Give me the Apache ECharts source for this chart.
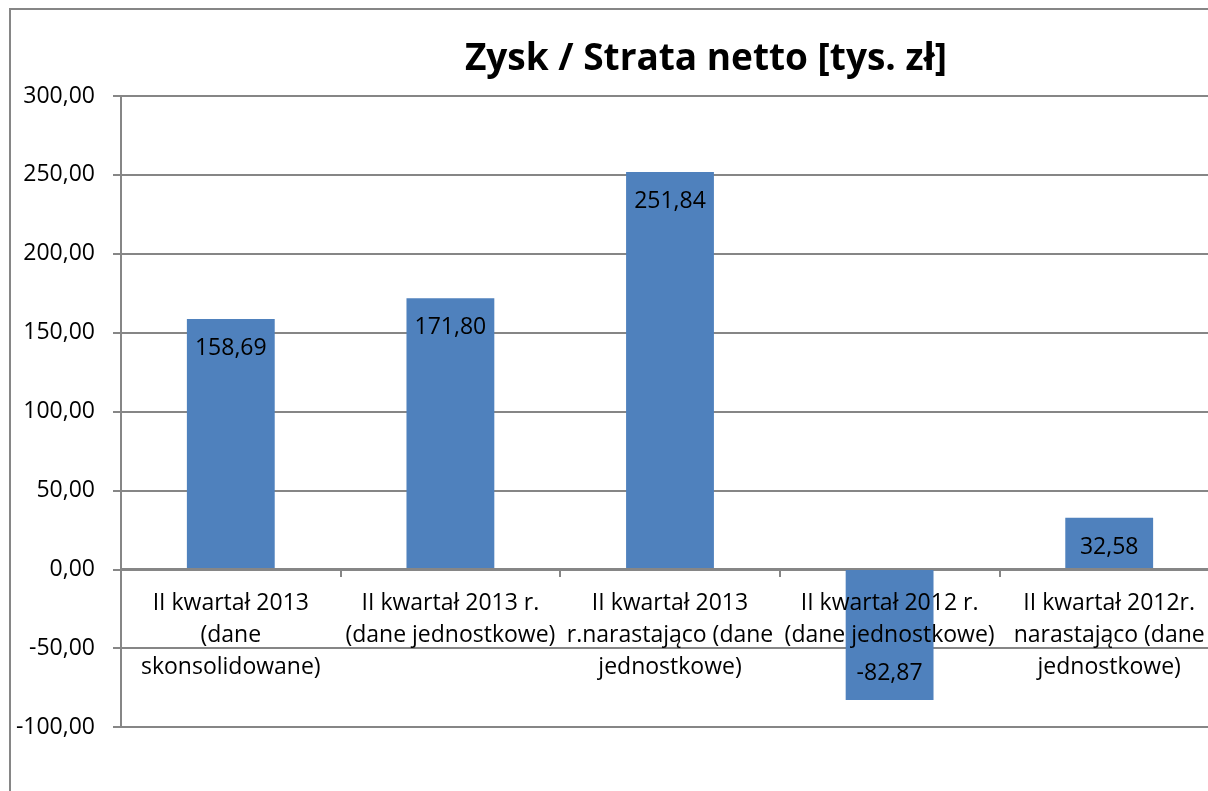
<!DOCTYPE html>
<html>
<head>
<meta charset="utf-8">
<script src="https://cdn.jsdelivr.net/npm/echarts@6/dist/echarts.min.js"></script>
<style>
  html, body { margin: 0; padding: 0; background: #fff; }
  #chart { width: 1208px; height: 791px; }
</style>
</head>
<body>
<div id="chart"></div>
<script>
'use strict';
// kategorie i wartości (tys. zł)
const categories = [
  'II kwartał 2013\n(dane\nskonsolidowane)',
  'II kwartał 2013 r.\n(dane jednostkowe)',
  'II kwartał 2013\nr.narastająco (dane\njednostkowe)',
  'II kwartał 2012 r.\n(dane jednostkowe)',
  'II kwartał 2012r.\nnarastająco (dane\njednostkowe)'
];
const values = [158.69, 171.80, 251.84, -82.87, 32.58];
const yTicks = { min: -100, max: 300, interval: 50 };

const fontFamily = '"Open Sans", "Noto Sans", sans-serif';
const gridColor = '#868686';
const fmt = (v) => v.toFixed(2).replace('.', ',');

let instance = echarts.init(document.getElementById('chart'));
instance.setOption({
  animation: false,
  title: {
    text: 'Zysk / Strata netto [tys. zł]',
    left: 701,
    textAlign: 'center',
    top: 36,
    textStyle: { fontFamily: fontFamily, fontSize: 37, fontWeight: 'bold', color: '#000' }
  },
  graphic: [{
    type: 'rect',
    shape: { x: 10, y: 9, width: 1300, height: 900 },
    style: { fill: null, stroke: gridColor, lineWidth: 2 },
    silent: true
  }],
  grid: { left: 121, top: 96, width: 1098, height: 631, containLabel: false, outerBoundsMode: 'none' },
  xAxis: {
    type: 'category',
    data: categories,
    position: 'bottom',
    // oś kategorii leży na linii zera (0 -> 158 px nad dołem siatki)
    offset: -158,
    z: 3,
    axisLine: { onZero: false, lineStyle: { color: gridColor, width: 2 } },
    axisTick: { show: true, length: 8, lineStyle: { color: gridColor, width: 2 } },
    axisLabel: {
      interval: 0,
      margin: 18,
      fontFamily: fontFamily,
      fontSize: 23,
      lineHeight: 32,
      color: '#000'
    }
  },
  yAxis: {
    type: 'value',
    min: yTicks.min,
    max: yTicks.max,
    interval: yTicks.interval,
    axisLine: { show: true, lineStyle: { color: gridColor, width: 2 } },
    axisTick: { show: true, length: 8, lineStyle: { color: gridColor, width: 2 } },
    splitLine: { lineStyle: { color: gridColor, width: 2 } },
    axisLabel: {
      margin: 26,
      fontFamily: fontFamily,
      fontSize: 23,
      color: '#000',
      formatter: fmt
    }
  },
  series: [{
    type: 'bar',
    barCategoryGap: '60%',
    itemStyle: { color: '#4F81BD' },
    data: values.map(v => ({
      value: v,
      label: v < 0 ? { position: 'insideBottom', distance: 15 } : { position: 'insideTop', distance: 18 }
    })),
    label: {
      show: true,
      fontFamily: fontFamily,
      fontSize: 23,
      color: '#000',
      formatter: (p) => fmt(p.value)
    }
  }]
});
window.onresize = () => {
  instance.resize();
};
</script>
</body>
</html>
